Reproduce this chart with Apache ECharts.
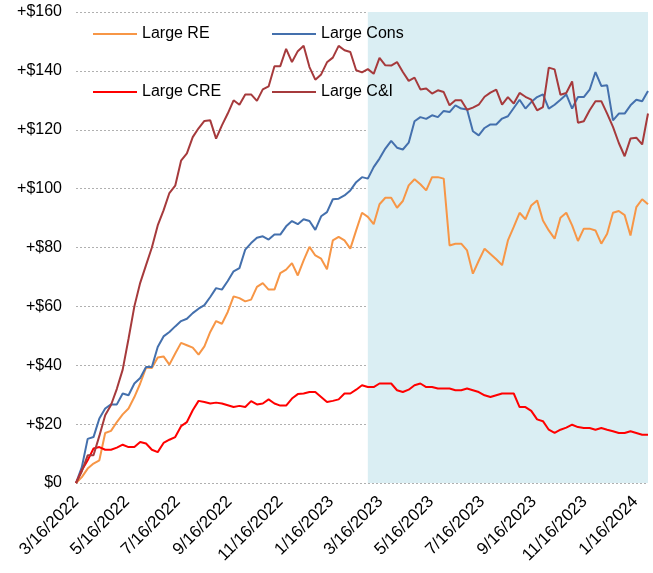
<!DOCTYPE html>
<html><head><meta charset="utf-8">
<script src="https://cdn.jsdelivr.net/npm/echarts@6/dist/echarts.min.js"></script>
<style>html,body{margin:0;padding:0;background:#fff}#c{width:653px;height:573px}</style>
</head><body><div id="c"></div>
<script>
// Weekly observations starting 3/16/2022 (cumulative change, $ billions)
const startDate = [2022, 2, 16];
const tickLabels = ['3/16/2022','5/16/2022','7/16/2022','9/16/2022','11/16/2022','1/16/2023','3/16/2023','5/16/2023','7/16/2023','9/16/2023','11/16/2023','1/16/2024'];
const shadeStart = '3/1/2023';
const seriesNames = ['Large RE','Large Cons','Large CRE','Large C&I'];
const largeRE = [0,2,4.9,6.6,7.7,17,17.7,20.7,23.3,25.3,29.2,33.8,39.2,39.1,42.6,43,40.2,44,47.6,46.8,46,43.6,46.4,51.3,55,54.1,58.1,63.4,62.8,61.7,62.3,66.6,67.9,65.7,65.7,71.3,72.5,74.7,70.5,75.6,80.2,77.3,76.2,72.6,82.4,83.6,82.4,79.6,85.8,91.8,90.4,87.9,94.7,96.9,96.9,93.5,95.8,101.1,103.2,101.5,99.4,103.9,103.9,103.4,80.7,81.3,81.3,79,71.1,75.5,79.6,77.8,76,74,82.4,87,91.8,89.6,94.3,96,89.2,85.8,83,90.1,91.8,87.5,82.2,86.4,86.4,85.8,81.3,84.7,91.8,92.4,91,84.1,93.7,96.4,94.7];
const largeCons = [0,5.4,15,15.6,21.9,25.3,26.7,26.7,30.4,29.8,33.8,35.7,39.4,39.4,46.2,49.8,51.3,53.2,55,55.8,57.7,59.2,60.4,63.2,66.2,65.7,68.6,71.9,73,79.3,81.5,83.3,83.8,82.7,84.4,84.4,87.2,89,87.9,89.6,89,86,90.6,92,96.4,96.6,97.7,99.4,102.2,103.9,103.4,107.3,110.2,113.6,116.2,113.9,113.3,115.6,122.9,124.3,123.7,124.9,124.3,126.4,126,128.3,127.2,126.9,119.5,118.1,120.6,121.8,121.8,123.8,124.6,127.4,130.2,127.2,129.4,131.1,132,127.2,128.5,130.2,132,127.2,131.1,131.1,133.6,139.6,134.9,135.1,123.2,125.5,125.5,128.3,130.2,129.7,133.2];
const largeCRE = [0,4.3,7.7,11.7,12.2,11.3,11.3,12,13,12.2,12.2,13.9,13.4,11.3,10.5,13.6,14.7,15.6,19.3,20.7,24.7,27.9,27.5,27,27.3,27,26.4,25.8,26.2,25.8,27.8,26.7,27,28.4,27,26.3,26.3,28.7,30.2,30.4,30.9,30.9,29.2,27.5,27.9,28.4,30.4,30.4,31.7,33.2,32.6,32.6,33.8,33.8,33.8,31.5,30.9,31.7,33.2,33.8,32.6,32.6,32.1,32.1,32.1,31.5,31.5,32.1,31.5,30.9,29.8,29.2,29.8,30.4,30.4,30.4,25.8,25.8,24.5,21.6,21,18.1,17,18.1,18.8,19.8,19,18.7,18.7,18.1,18.7,18.1,17.6,17,17,17.6,17,16.4,16.4];
const largeCI = [0,4,9.4,9.4,16,23,26.5,32,38.5,49,60,68,74,80,87.5,92.6,98.5,101,109.5,112,117.5,120.5,123,123.2,117,121.5,125.5,130,128.5,132,132,129.8,133.7,134.7,141.6,141.6,147.5,143,146.7,148.5,141.3,137,138.8,142.9,144.5,148.5,147,146.4,140.2,139.5,140.6,139,144.4,141.9,141.8,143,139.6,136.6,137.7,133.7,134,132.3,133.4,132.8,128.3,130,130,126.8,127.5,128.5,131.2,132.6,133.6,128.5,131.1,128.9,132.5,131.2,130.2,126.6,127.7,141.1,140.5,131.9,132.5,136.4,122.4,122.9,126.6,129.7,129.7,125.5,121,115.5,111,117,117.3,115,125.5];
const colors = ['#F79646','#4470AD','#FF0000','#A63A3C'];

function parseMDY(s){const p=s.split('/').map(Number);return new Date(p[2],p[0]-1,p[1]).getTime();}
const dates = largeRE.map((_,i)=>new Date(startDate[0],startDate[1],startDate[2]+7*i).getTime());
const tickValues = tickLabels.map(parseMDY);
const pair = arr => arr.map((v,i)=>[dates[i],v]);
const allData = [largeRE,largeCons,largeCRE,largeCI];

const font = '"Liberation Sans",Arial,sans-serif';
const legendPos = [[93,26],[272,26],[93,84],[272,84]];

const chart = echarts.init(document.getElementById('c'));
chart.setOption({
  animation:false,
  backgroundColor:'#fff',
  grid:{left:76,right:5,top:12,bottom:90,containLabel:false},
  legend: seriesNames.map((n,k)=>({
    data:[n], left:legendPos[k][0], top:legendPos[k][1], itemWidth:44, itemHeight:2, itemGap:5,
    icon:'rect', padding:0,
    textStyle:{fontFamily:font,fontSize:16,color:'#000'}, selectedMode:false
  })),
  xAxis:{
    type:'value', min:dates[0], max:dates[dates.length-1],
    axisLine:{show:false}, axisTick:{show:false}, splitLine:{show:false},
    axisLabel:{customValues:tickValues, rotate:45, margin:16, color:'#000',
      fontFamily:font, fontSize:17,
      formatter:v=>{const d=new Date(v);return (d.getMonth()+1)+'/'+d.getDate()+'/'+d.getFullYear();}}
  },
  yAxis:{
    type:'value', min:0, max:160, interval:20,
    axisLine:{show:false}, axisTick:{show:false},
    splitLine:{lineStyle:{type:[2,2],color:'#B0B0B0',width:1}},
    axisLabel:{margin:14,color:'#000',fontFamily:font,fontSize:16,
      formatter:v=>v===0?'$0':'+$'+v}
  },
  series: seriesNames.map((n,k)=>{
    const s={name:n,type:'line',data:pair(allData[k]),symbol:'none',
      lineStyle:{width:2,color:colors[k]},itemStyle:{color:colors[k]},z:3+k};
    if(k===0){
      s.markArea={silent:true,itemStyle:{color:'#DAEEF3'},z:1,
        data:[[{xAxis:parseMDY(shadeStart)},{xAxis:dates[dates.length-1]}]]};
    }
    return s;
  })
});
</script></body></html>
